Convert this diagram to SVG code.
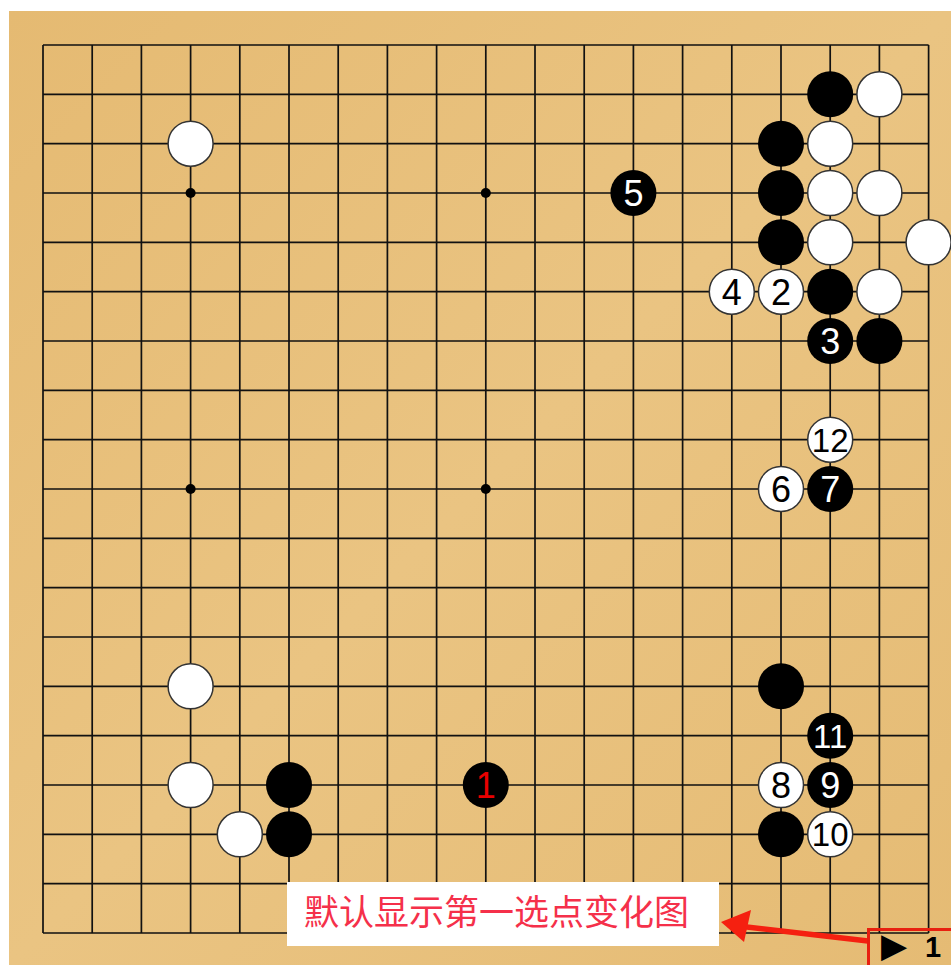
<svg xmlns="http://www.w3.org/2000/svg" width="951" height="965" viewBox="0 0 951 965">
<defs>
<style>
.grid{stroke:#111;stroke-width:1.7;fill:none}
.b{fill:#000}
.w{fill:#fff;stroke:#333;stroke-width:1.5}
.star{fill:#000}
.nw{fill:#fff;font-family:"Liberation Sans",Arial,sans-serif;text-anchor:middle}
.nb{fill:#000;font-family:"Liberation Sans",Arial,sans-serif;text-anchor:middle}
.s1{font-size:36px}
.s2{font-size:33px}
.lbl{fill:#f5304a;font-family:"Noto Sans CJK SC","Noto Sans",sans-serif;font-size:35px}
</style>
<linearGradient id="wood" x1="0" y1="0" x2="1" y2="1">
<stop offset="0" stop-color="#e5ba72"/>
<stop offset="0.5" stop-color="#eac482"/>
<stop offset="1" stop-color="#e5bb74"/>
</linearGradient>
</defs>
<rect x="0" y="0" width="951" height="965" fill="#fff"/>
<rect id="board" x="9" y="11" width="942" height="954" fill="url(#wood)"/>
<g id="grid" class="grid">
<path d="M43,45V933M92.2,45V933M141.4,45V933M190.6,45V933M239.8,45V933M289,45V933M338.2,45V933M387.4,45V933M436.6,45V933M485.8,45V933M535,45V933M584.2,45V933M633.4,45V933M682.6,45V933M731.8,45V933M781,45V933M830.2,45V933M879.4,45V933M928.6,45V933"/>
<path d="M43,45H928.6M43,94.3H928.6M43,143.7H928.6M43,193H928.6M43,242.3H928.6M43,291.7H928.6M43,341H928.6M43,390.3H928.6M43,439.7H928.6M43,489H928.6M43,538.3H928.6M43,587.7H928.6M43,637H928.6M43,686.3H928.6M43,735.7H928.6M43,785H928.6M43,834.3H928.6M43,883.7H928.6M43,933H928.6"/>
</g>
<g id="stars">
<circle class="star" cx="190.6" cy="193" r="5"/>
<circle class="star" cx="485.8" cy="193" r="5"/>
<circle class="star" cx="190.6" cy="489" r="5"/>
<circle class="star" cx="485.8" cy="489" r="5"/>
</g>
<g id="stones">
<g id="w-3-2"><circle class="w" cx="190.6" cy="143.7" r="22.5"/></g>
<g id="b-16-1"><circle class="b" cx="830.2" cy="94.3" r="23"/></g>
<g id="w-17-1"><circle class="w" cx="879.4" cy="94.3" r="22.5"/></g>
<g id="b-15-2"><circle class="b" cx="781" cy="143.7" r="23"/></g>
<g id="w-16-2"><circle class="w" cx="830.2" cy="143.7" r="22.5"/></g>
<g id="m5"><circle class="b" cx="633.4" cy="193" r="23"/><text class="nw s1" x="633.4" y="206">5</text></g>
<g id="b-15-3"><circle class="b" cx="781" cy="193" r="23"/></g>
<g id="w-16-3"><circle class="w" cx="830.2" cy="193" r="22.5"/></g>
<g id="w-17-3"><circle class="w" cx="879.4" cy="193" r="22.5"/></g>
<g id="b-15-4"><circle class="b" cx="781" cy="242.3" r="23"/></g>
<g id="w-16-4"><circle class="w" cx="830.2" cy="242.3" r="22.5"/></g>
<g id="w-18-4"><circle class="w" cx="928.6" cy="242.3" r="22.5"/></g>
<g id="m4"><circle class="w" cx="731.8" cy="291.7" r="22.5"/><text class="nb s1" x="731.8" y="304.7">4</text></g>
<g id="m2"><circle class="w" cx="781" cy="291.7" r="22.5"/><text class="nb s1" x="781" y="304.7">2</text></g>
<g id="b-16-5"><circle class="b" cx="830.2" cy="291.7" r="23"/></g>
<g id="w-17-5"><circle class="w" cx="879.4" cy="291.7" r="22.5"/></g>
<g id="m3"><circle class="b" cx="830.2" cy="341" r="23"/><text class="nw s1" x="830.2" y="354">3</text></g>
<g id="b-17-6"><circle class="b" cx="879.4" cy="341" r="23"/></g>
<g id="m12"><circle class="w" cx="830.2" cy="439.7" r="22.5"/><text class="nb s2" x="830.2" y="451.5">12</text></g>
<g id="m6"><circle class="w" cx="781" cy="489" r="22.5"/><text class="nb s1" x="781" y="502">6</text></g>
<g id="m7"><circle class="b" cx="830.2" cy="489" r="23"/><text class="nw s1" x="830.2" y="502">7</text></g>
<g id="w-3-13"><circle class="w" cx="190.6" cy="686.3" r="22.5"/></g>
<g id="b-15-13"><circle class="b" cx="781" cy="686.3" r="23"/></g>
<g id="m11"><circle class="b" cx="830.2" cy="735.7" r="23"/><text class="nw s2" x="830.2" y="747.5">11</text></g>
<g id="w-3-15"><circle class="w" cx="190.6" cy="785" r="22.5"/></g>
<g id="b-5-15"><circle class="b" cx="289" cy="785" r="23"/></g>
<g id="m1"><circle class="b" cx="485.8" cy="785" r="23"/><text class="s1" x="485.8" y="798" fill="#e80000" font-family="Liberation Sans, Arial, sans-serif" text-anchor="middle">1</text></g>
<g id="m8"><circle class="w" cx="781" cy="785" r="22.5"/><text class="nb s1" x="781" y="798">8</text></g>
<g id="m9"><circle class="b" cx="830.2" cy="785" r="23"/><text class="nw s1" x="830.2" y="798">9</text></g>
<g id="w-4-16"><circle class="w" cx="239.8" cy="834.3" r="22.5"/></g>
<g id="b-5-16"><circle class="b" cx="289" cy="834.3" r="23"/></g>
<g id="b-15-16"><circle class="b" cx="781" cy="834.3" r="23"/></g>
<g id="m10"><circle class="w" cx="830.2" cy="834.3" r="22.5"/><text class="nb s2" x="830.2" y="846.1">10</text></g>
</g>
<g id="label">
<rect x="287" y="882" width="432" height="64" fill="#fff"/>
<text class="lbl" x="304" y="925">默认显示第一选点变化图</text>
</g>
<g id="connectors">
<line x1="738" y1="926" x2="868" y2="941" stroke="#f52010" stroke-width="5.5"/>
<polygon points="721,922 751,910 744,942" fill="#f52010"/>
</g>
<g id="move-box">
<rect x="868.5" y="929.5" width="84" height="40" fill="none" stroke="#e82010" stroke-width="3"/>
<text x="881" y="957" font-family="DejaVu Sans, sans-serif" font-size="34" fill="#000">▶</text>
<text x="925" y="957" font-family="Liberation Sans, Arial, sans-serif" font-weight="bold" font-size="29" fill="#000">1</text>
</g>
</svg>
